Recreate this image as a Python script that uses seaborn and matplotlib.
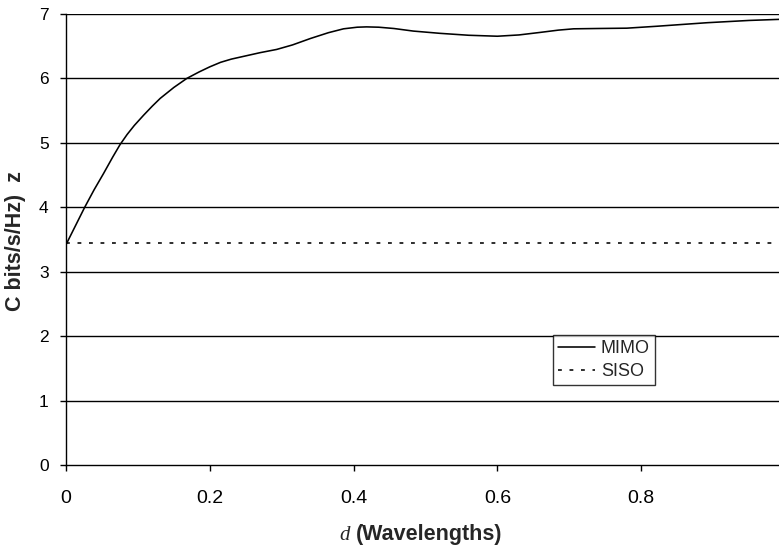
import matplotlib
matplotlib.use("Agg")
import matplotlib.pyplot as plt
from matplotlib.lines import Line2D
import seaborn as sns
import pandas as pd

# MIMO capacity vs element spacing d (wavelengths)
d_mimo = [0.0, 0.013, 0.026, 0.039, 0.052, 0.065, 0.075, 0.085, 0.095, 0.108,
          0.12, 0.131, 0.15, 0.168, 0.185, 0.2, 0.215, 0.23, 0.25, 0.27, 0.293,
          0.315, 0.34, 0.365, 0.386, 0.405, 0.418, 0.435, 0.456, 0.483, 0.52,
          0.56, 0.6, 0.63, 0.66, 0.685, 0.706, 0.74, 0.78, 0.822, 0.86, 0.892,
          0.95, 1.0]
c_mimo = [3.42, 3.71, 4.0, 4.27, 4.52, 4.78, 4.97, 5.13, 5.27, 5.43,
          5.57, 5.69, 5.86, 6.0, 6.1, 6.18, 6.25, 6.3, 6.35, 6.4, 6.45,
          6.52, 6.62, 6.71, 6.77, 6.795, 6.80, 6.795, 6.775, 6.735, 6.70,
          6.67, 6.655, 6.675, 6.715, 6.75, 6.77, 6.775, 6.78, 6.81, 6.84, 6.865,
          6.9, 6.92]
# SISO capacity (constant)
d_siso = [0.0, 0.1, 0.2, 0.3, 0.4, 0.5, 0.6, 0.7, 0.8, 0.9, 1.0]
c_siso = [3.45] * 11

x_ticks = [0, 0.2, 0.4, 0.6, 0.8, 1]
x_ticklabels = ["0", "0.2", "0.4", "0.6", "0.8", "1"]
y_ticks = [0, 1, 2, 3, 4, 5, 6, 7]
series_names = ["MIMO", "SISO"]

sns.set_theme(style="white")
plt.rcParams["font.family"] = ["Liberation Sans", "DejaVu Sans"]

df = pd.concat([
    pd.DataFrame({"d": d_mimo, "C": c_mimo, "series": series_names[0]}),
    pd.DataFrame({"d": d_siso, "C": c_siso, "series": series_names[1]}),
])

W, H = 779, 545
fig = plt.figure(figsize=(W / 100, H / 100), dpi=100)
ax = fig.add_axes([66 / W, (H - 465) / H, (785 - 66) / W, (465 - 14) / H])

siso_dash = (2.4, 4.8)
sns.lineplot(data=df, x="d", y="C", style="series",
             dashes={"MIMO": "", "SISO": siso_dash}, color="black", linewidth=1.15,
             ax=ax, legend=False)
for ln in ax.lines:
    ln.set_solid_joinstyle("round")

ax.set_xlim(0, 1)
ax.set_ylim(0, 7)
ax.set_xticks(x_ticks)
ax.set_xticklabels(x_ticklabels)
ax.set_yticks(y_ticks)
for y in y_ticks[1:]:
    ax.axhline(y, color="black", linewidth=1.0, zorder=0)

for s in ["top", "right"]:
    ax.spines[s].set_visible(False)
for s in ["left", "bottom"]:
    ax.spines[s].set_color("black")
    ax.spines[s].set_linewidth(1.0)

ax.tick_params(axis="both", which="major", direction="out", length=4.5, width=1,
               color="black", labelcolor="black", bottom=True, left=True)
ax.tick_params(axis="x", labelsize=14, pad=13.5)
ax.tick_params(axis="y", labelsize=12.5, pad=8)

ax.set_xlabel("")
ax.set_ylabel("")

fig.text(15 / W, 1 - 241 / H, "C bits/s/Hz)  z", fontsize=15.5, fontweight="bold",
         rotation=90, ha="center", va="center")
fig.text(429 / W, 1 - 540 / H, "(Wavelengths)", fontsize=15.5, fontweight="bold",
         ha="center", va="baseline")
fig.text(345 / W, 1 - 540 / H, "d", fontsize=15, style="italic",
         family="Liberation Serif", ha="center", va="baseline")

handles = [Line2D([], [], color="black", lw=1.15),
           Line2D([], [], color="black", lw=1.15, dashes=siso_dash)]
leg = ax.legend(handles, series_names, loc="upper left",
                bbox_to_anchor=((553 - 66) / (785 - 66), (465 - 335) / (465 - 14)),
                frameon=True, fancybox=False, fontsize=13, handlelength=2.0,
                handletextpad=0.35, borderpad=0.3, labelspacing=0.3, borderaxespad=0)
leg.get_frame().set_edgecolor("black")
leg.get_frame().set_linewidth(1.0)

fig.savefig("out.png", dpi=100)
